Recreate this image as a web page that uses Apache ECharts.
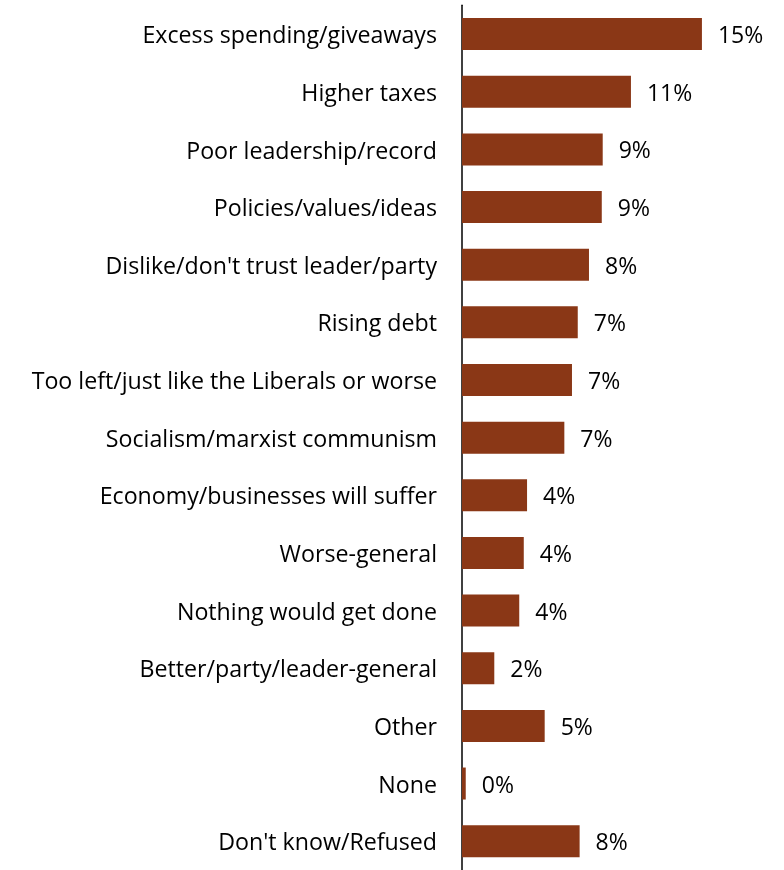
<!DOCTYPE html>
<html>
<head>
<meta charset="utf-8">
<script src="https://cdn.jsdelivr.net/npm/echarts@6/dist/echarts.min.js"></script>
<style>
  html, body { margin: 0; padding: 0; background: #fff; }
  #chart { width: 784px; height: 870px; }
</style>
</head>
<body>
<div id="chart"></div>
<script>
const categories = [
  "Excess spending/giveaways",
  "Higher taxes",
  "Poor leadership/record",
  "Policies/values/ideas",
  "Dislike/don't trust leader/party",
  "Rising debt",
  "Too left/just like the Liberals or worse",
  "Socialism/marxist communism",
  "Economy/businesses will suffer",
  "Worse-general",
  "Nothing would get done",
  "Better/party/leader-general",
  "Other",
  "None",
  "Don't know/Refused"
];
const values = [15.38, 10.83, 9.02, 8.96, 8.14, 7.42, 7.05, 6.56, 4.17, 3.96, 3.67, 2.07, 5.30, 0.24, 7.54];

const FONT = 'Open Sans';
const chart = echarts.init(document.getElementById('chart'));
chart.setOption({
  animation: false,
  backgroundColor: '#ffffff',
  grid: { left: 462, top: 5.3, height: 870.6, width: 312, containLabel: false },
  xAxis: {
    type: 'value', min: 0, max: 20,
    show: false
  },
  yAxis: {
    type: 'category',
    data: categories,
    inverse: true,
    axisLine: { show: true, lineStyle: { color: '#000', width: 1.5 } },
    axisTick: { show: false },
    axisLabel: {
      color: '#000', fontSize: 23.2, fontFamily: FONT, margin: 25,
      formatter: v => '{t|' + v + '}',
      rich: { t: { color: '#000', fontSize: 23.2, fontFamily: FONT, padding: [5, 0, 0, 0] } }
    }
  },
  series: [{
    type: 'bar',
    data: values,
    barWidth: 32,
    itemStyle: { color: '#8A3716' },
    label: {
      show: true, position: 'right', distance: 16, offset: [0, 2.5],
      color: '#000', fontSize: 23, fontFamily: FONT,
      formatter: p => Math.round(p.value) + '%'
    }
  }]
});
</script>
</body>
</html>
